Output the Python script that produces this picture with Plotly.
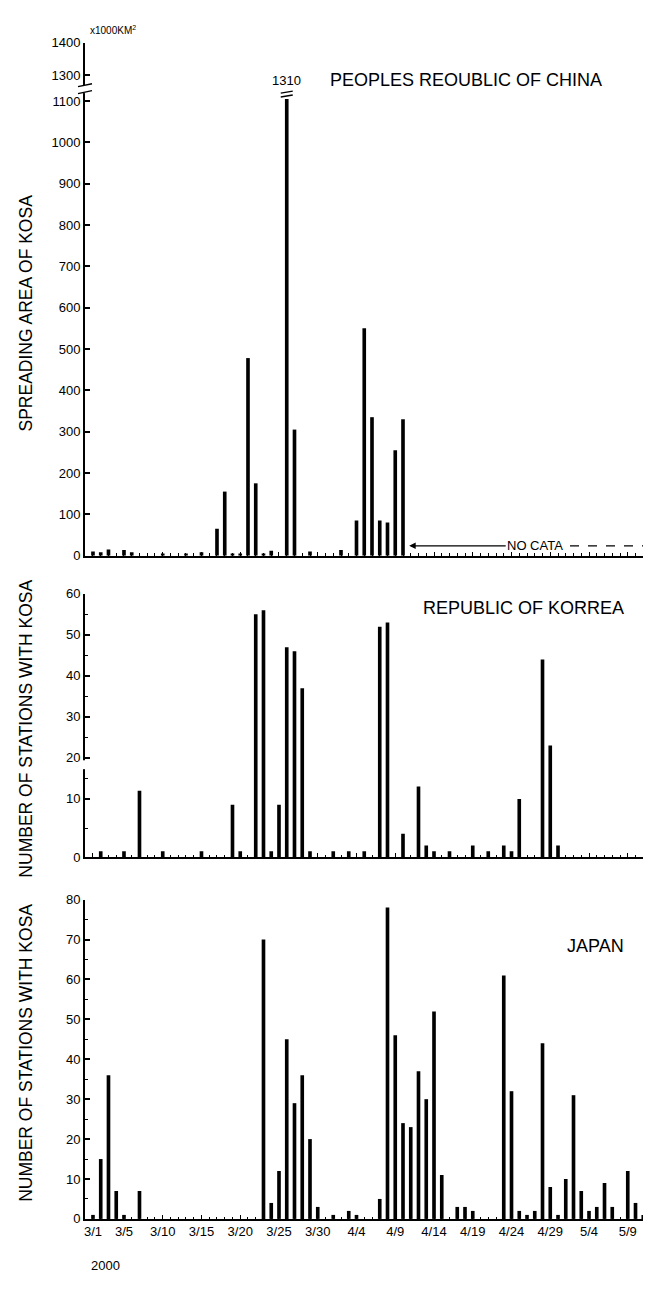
import plotly.graph_objects as go

# ---------------- data (day index: 0 = 3/1/2000) ----------------
date_labels = ["3/1", "3/5", "3/10", "3/15", "3/20", "3/25", "3/30", "4/4",
               "4/9", "4/14", "4/19", "4/24", "4/29", "5/4", "5/9"]
date_label_days = [0, 4, 9, 14, 19, 24, 29, 34, 39, 44, 49, 54, 59, 64, 69]

china_days = [0, 1, 2, 4, 5, 9, 12, 14, 16, 17, 18, 19, 20, 21, 22, 23,
              25, 26, 28, 32, 34, 35, 36, 37, 38, 39, 40]
china_area = [10, 8, 15, 14, 8, 5, 5, 8, 65, 155, 5, 5, 478, 175, 5, 12,
              1310, 305, 10, 14, 85, 550, 335, 85, 80, 255, 330]

korea_days = [1, 4, 6, 9, 14, 18, 19, 21, 22, 23, 24, 25, 26, 27, 28, 31,
              33, 35, 37, 38, 40, 42, 43, 44, 46, 49, 51, 53, 54, 55, 58,
              59, 60]
korea_stations = [1, 1, 12, 1, 1, 9, 1, 55, 56, 1, 9, 47, 46, 37, 1, 1,
                  1, 1, 52, 53, 4, 13, 2, 1, 1, 2, 1, 2, 1, 10, 44,
                  23, 2]

japan_days = [0, 1, 2, 3, 4, 6, 22, 23, 24, 25, 26, 27, 28, 29, 31, 33, 34,
              37, 38, 39, 40, 41, 42, 43, 44, 45, 47, 48, 49, 53, 54, 55,
              56, 57, 58, 59, 60, 61, 62, 63, 64, 65, 66, 67, 69, 70, 71, 72]
japan_stations = [1, 15, 36, 7, 1, 7, 70, 4, 12, 45, 29, 36, 20, 3, 1, 2, 1,
                  5, 78, 46, 24, 23, 37, 30, 52, 11, 3, 3, 2, 61, 32, 2,
                  1, 2, 44, 8, 1, 10, 31, 7, 2, 3, 9, 3, 12, 4, 1, 1]

china_ticks = [0, 100, 200, 300, 400, 500, 600, 700, 800, 900, 1000, 1100, 1300, 1400]
korea_ticks = [0, 10, 20, 30, 40, 50, 60]
korea_minor = [5, 15, 25, 35, 45, 55]
japan_ticks = [0, 10, 20, 30, 40, 50, 60, 70, 80]
japan_minor = [5, 15, 25, 35, 45, 55, 65, 75]

# ---------------- geometry ----------------
W, H, L = 651, 1296, 77
PW = W - L
FONT = "Liberation Sans, Arial, sans-serif"
XR = [-1.03, 73.03]


def px_x(px):
    return (px - L) / PW


def px_y(py):
    return 1 - py / H


CH0, CH1 = 547, 28          # pixel rows: china zero / top
KO0, KO1 = 852, 585.6
JA0, JA1 = 1218, 895
CH_TOP = 1241
KO_TOP = 64.2
CH_CLIP = 1105


def china_axis(v):
    if v <= 1100:
        return v
    return 1162 + (v - 1300) * 0.79


def korea_axis(v):
    return v * 1.42 if v <= 10 else v + 4.2


fig = go.Figure()
bar_style = dict(marker=dict(color="black", line=dict(width=0)), width=0.47,
                 hoverinfo="skip", showlegend=False)
fig.add_trace(go.Bar(x=china_days, y=[min(v, CH_CLIP) for v in china_area],
                     xaxis="x", yaxis="y", **bar_style))
fig.add_trace(go.Bar(x=korea_days, y=[korea_axis(v) for v in korea_stations],
                     xaxis="x2", yaxis="y2", **bar_style))
fig.add_trace(go.Bar(x=japan_days, y=japan_stations,
                     xaxis="x3", yaxis="y3", **bar_style))


def xaxis(anchor, labels):
    d = dict(domain=[0, 1], anchor=anchor, range=XR, showline=True,
             linecolor="black", linewidth=1.6, ticks="inside", ticklen=4,
             tickwidth=1.2, tickcolor="black", tickmode="array",
             tickvals=date_label_days, showgrid=False, zeroline=False,
             minor=dict(ticks="inside", ticklen=2.5, tickwidth=1, tickcolor="black",
                        tickmode="linear", tick0=0, dtick=1, showgrid=False))
    if labels:
        d.update(ticktext=date_labels, showticklabels=True,
                 tickfont=dict(family=FONT, size=13, color="black"))
    else:
        d.update(showticklabels=False)
    return d


def yaxis(anchor, dom, rng, vals, texts, minor_vals=None):
    d = dict(domain=dom, anchor=anchor, range=rng, showline=True,
             linecolor="black", linewidth=2, ticks="inside", ticklen=5,
             tickwidth=1.5, tickcolor="black", tickmode="array",
             tickvals=vals, ticktext=texts, showgrid=False, zeroline=False,
             tickfont=dict(family=FONT, size=13, color="black"))
    if minor_vals:
        d["minor"] = dict(tickmode="array", tickvals=minor_vals, ticks="inside",
                          ticklen=3, tickwidth=1.2, tickcolor="black", showgrid=False)
    return d


fig.update_layout(
    width=W, height=H, autosize=False,
    margin=dict(l=L, r=0, t=0, b=0, pad=0),
    paper_bgcolor="white", plot_bgcolor="white",
    showlegend=False, barmode="overlay",
    font=dict(family=FONT, color="black"),
    xaxis=xaxis("y", False),
    xaxis2=xaxis("y2", False),
    xaxis3=xaxis("y3", True),
    yaxis=yaxis("x", [px_y(CH0), px_y(CH1)], [0, CH_TOP],
                [china_axis(v) for v in china_ticks], [str(v) for v in china_ticks]),
    yaxis2=yaxis("x2", [px_y(KO0), px_y(KO1)], [0, KO_TOP],
                 [korea_axis(v) for v in korea_ticks], [str(v) for v in korea_ticks],
                 [korea_axis(v) for v in korea_minor]),
    yaxis3=yaxis("x3", [px_y(JA0), px_y(JA1)], [0, 80], japan_ticks,
                 [str(v) for v in japan_ticks], japan_minor),
)

ann = []


def note(text, x, y, size, xanchor="center", yanchor="middle", angle=0, xref="paper"):
    ann.append(dict(text=text, x=x, y=y, xref=xref, yref="paper", showarrow=False,
                    xanchor=xanchor, yanchor=yanchor, textangle=angle,
                    font=dict(family=FONT, size=size, color="black")))


note("PEOPLES REOUBLIC OF CHINA", px_x(320), px_y(66), 18, xanchor="left")
note("REPUBLIC OF KORREA", px_x(413), px_y(600), 18, xanchor="left")
note("JAPAN", px_x(557), px_y(942), 18, xanchor="left")
note("SPREADING AREA OF KOSA", px_x(18), px_y(302), 17.5, angle=-90)
note("NUMBER OF STATIONS WITH KOSA", px_x(18), px_y(722), 17.5, angle=-90)
note("NUMBER OF STATIONS WITH KOSA", px_x(18), px_y(1050), 17.5, angle=-90)
note("x1000KM<sup>2</sup>", px_x(80), px_y(15), 10, xanchor="left")
note("2000", px_x(97), px_y(1265), 13)
for d, v in zip(china_days, china_area):
    if v > 1100:
        note(str(v), d, px_y(66), 13, xref="x")

# NO DATA arrow
ann.append(dict(text="NO CATA", x=40.8, y=px_y(537), xref="x", yref="paper",
                ax=126, ay=0, showarrow=True, arrowhead=2, arrowsize=1,
                arrowwidth=1.3, arrowcolor="black",
                font=dict(family=FONT, size=13, color="black")))
fig.update_layout(annotations=ann)

shapes = []
# dashed continuation of NO DATA line
shapes.append(dict(type="line", xref="paper", yref="paper", x0=px_x(562), x1=1.0,
                   y0=px_y(537), y1=px_y(537),
                   line=dict(color="black", width=1.3, dash="dash")))
# china axis break
shapes.append(dict(type="rect", xref="paper", yref="paper", x0=px_x(73), x1=px_x(81),
                   y0=px_y(79), y1=px_y(71), fillcolor="white", line=dict(width=0)))
for py in (71, 78):
    shapes.append(dict(type="line", xref="paper", yref="paper", x0=px_x(70), x1=px_x(84),
                       y0=px_y(py + 1.5), y1=px_y(py - 1.5),
                       line=dict(color="black", width=1.4)))
# break mark on top of the truncated bar
for d, v in zip(china_days, china_area):
    if v > 1100:
        xc = L + (d - XR[0]) / (XR[1] - XR[0]) * PW
        for py in (78, 82):
            shapes.append(dict(type="line", xref="paper", yref="paper",
                               x0=px_x(xc - 6), x1=px_x(xc + 6),
                               y0=px_y(py + 1), y1=px_y(py - 1),
                               line=dict(color="black", width=1.4)))
# korea axis break
shapes.append(dict(type="rect", xref="paper", yref="paper", x0=px_x(74), x1=px_x(80),
                   y0=px_y(763), y1=px_y(754), fillcolor="white", line=dict(width=0)))
fig.update_layout(shapes=shapes)

fig.write_html("out.html")
